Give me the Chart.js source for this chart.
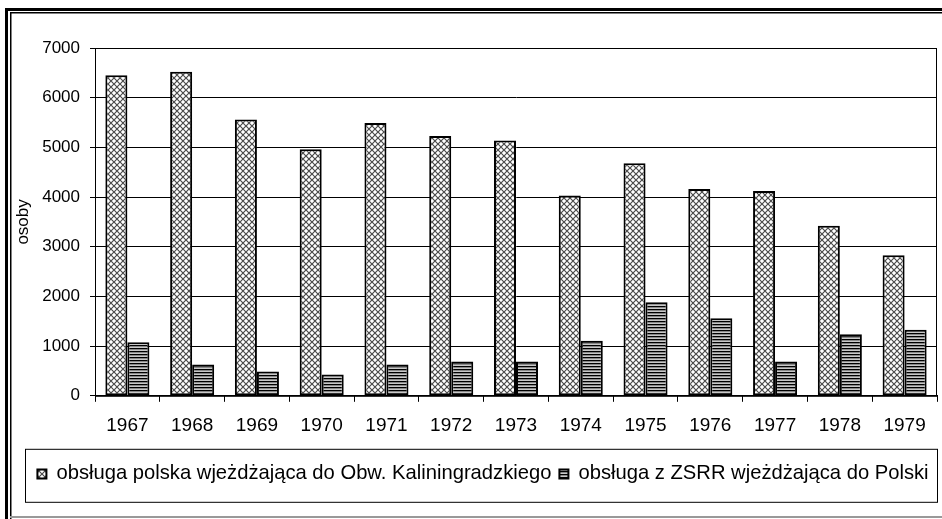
<!DOCTYPE html>
<html>
<head>
<meta charset="utf-8">
<script src="https://cdn.jsdelivr.net/npm/chart.js@4"></script>
<style>
  body { margin: 0; background: #fff; }
  canvas { display: block; }
</style>
</head>
<body>
<canvas id="chart" width="942" height="519"></canvas>
<script>
// lata i liczba osób obsługi
const years = ['1967', '1968', '1969', '1970', '1971', '1972', '1973', '1974', '1975', '1976', '1977', '1978', '1979'];
const polishCrew = [6450, 6520, 5560, 4960, 5490, 5230, 5140, 4030, 4680, 4160, 4120, 3420, 2830];
const sovietCrew = [1080, 630, 490, 430, 630, 690, 690, 1110, 1885, 1560, 690, 1240, 1330];
const seriesNames = ['obsługa polska wjeżdżająca do Obw. Kaliningradzkiego', 'obsługa z ZSRR wjeżdżająca do Polski'];
const yTicks = [0, 1000, 2000, 3000, 4000, 5000, 6000, 7000];

const FONT = 'Liberation Sans, Arial, sans-serif';

// crosshatch fill
function crossPattern() {
  let c = document.createElement('canvas');
  c.width = 6; c.height = 6;
  let g = c.getContext('2d');
  g.fillStyle = '#fff';
  g.fillRect(0, 0, 6, 6);
  g.strokeStyle = '#4a4a4a';
  g.lineWidth = 1.2;
  g.beginPath();
  g.moveTo(0, 0); g.lineTo(6, 6);
  g.moveTo(6, 0); g.lineTo(0, 6);
  g.stroke();
  return g.createPattern(c, 'repeat');
}

// horizontal stripes
function stripePattern() {
  let c = document.createElement('canvas');
  c.width = 1; c.height = 3;
  let g = c.getContext('2d');
  g.fillStyle = '#000'; g.fillRect(0, 0, 1, 1);
  g.fillStyle = '#888'; g.fillRect(0, 1, 1, 1);
  g.fillStyle = '#c8c8c8'; g.fillRect(0, 2, 1, 1);
  return g.createPattern(c, 'repeat');
}

const frame = {
  id: 'frame',
  afterLayout(chart) {
    // legenda w oryginale jest lekko przesunięta w prawo
    chart.legend.left += 8;
    chart.legend.right += 8;
  },
  beforeDraw(chart) {
    let ctx = chart.ctx;
    ctx.save();
    ctx.fillStyle = '#fff';
    ctx.fillRect(0, 0, chart.width, chart.height);
    ctx.fillStyle = '#000';
    ctx.fillRect(5, 8, chart.width - 5, 3);
    ctx.fillRect(5, 8, 3, chart.height - 8);
    ctx.fillRect(10, 12, chart.width - 10, 1.5);
    ctx.fillRect(10, 12, 1.5, chart.height - 12);
    ctx.fillStyle = '#999';
    ctx.fillRect(10, chart.height - 3, chart.width - 10, 2);
    ctx.restore();
  },
  afterDraw(chart) {
    let ctx = chart.ctx;
    let a = chart.chartArea;
    let lg = chart.legend;
    ctx.save();
    ctx.strokeStyle = '#000';
    ctx.lineWidth = 1;
    ctx.strokeRect(a.left + 0.5, a.top + 0.5, a.right - a.left - 1, a.bottom - a.top);
    ctx.strokeRect(25.5, lg.top - 6.5, a.right - 25, 53);
    ctx.restore();
  }
};

const ctx = document.getElementById('chart').getContext('2d');
const chart = new Chart(ctx, {
  type: 'bar',
  data: {
    labels: years,
    datasets: [
      {
        label: seriesNames[0],
        data: polishCrew,
        backgroundColor: crossPattern(),
        borderColor: '#000',
        borderWidth: 2,
        borderSkipped: false
      },
      {
        label: seriesNames[1],
        data: sovietCrew,
        backgroundColor: stripePattern(),
        borderColor: '#000',
        borderWidth: 2,
        borderSkipped: false
      }
    ]
  },
  options: {
    responsive: false,
    animation: false,
    categoryPercentage: 0.68,
    barPercentage: 1.0,
    layout: { padding: { left: 13, top: 48, right: 5, bottom: 25 } },
    plugins: {
      tooltip: { enabled: false },
      legend: {
        position: 'bottom',
        labels: {
          color: '#000',
          font: { family: FONT, size: 20.2 },
          boxWidth: 9,
          boxHeight: 9,
          padding: 8
        }
      }
    },
    scales: {
      x: {
        afterFit: (s) => { s.height = 60; },
        grid: { display: true, drawOnChartArea: false, color: '#000', tickLength: 6, offset: true },
        border: { color: '#000', width: 1 },
        ticks: { color: '#000', font: { family: FONT, size: 19 }, padding: 13, maxRotation: 0 }
      },
      y: {
        min: 0,
        max: 7000,
        afterFit: (s) => { s.width = 82; },
        afterBuildTicks: (s) => { s.ticks = yTicks.map(v => ({ value: v })); },
        grid: { color: '#000', tickLength: 5 },
        border: { color: '#000', width: 1 },
        ticks: { color: '#000', font: { family: FONT, size: 17 }, padding: 10, callback: (v) => String(v) },
        title: { display: true, text: 'osoby', color: '#000', font: { family: FONT, size: 17 }, padding: 0 }
      }
    }
  },
  plugins: [frame]
});
</script>
</body>
</html>
